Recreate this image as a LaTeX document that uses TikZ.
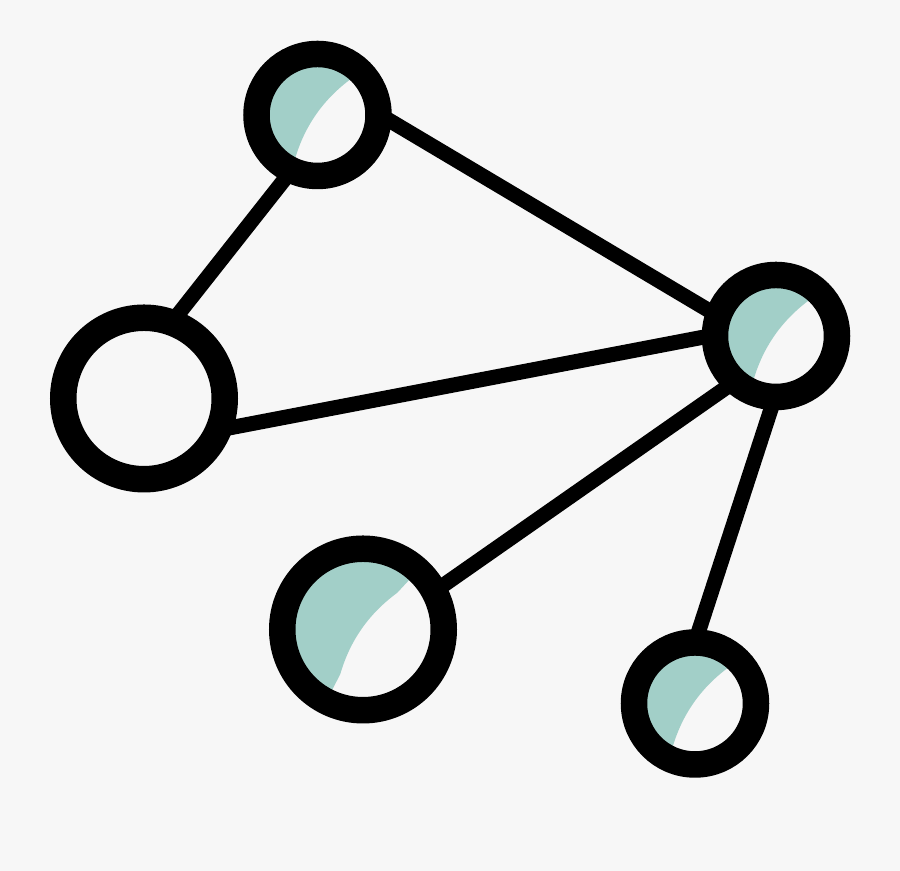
\documentclass[tikz,border=0pt]{standalone}
\usepackage{tikz}
\definecolor{paper}{RGB}{247,247,247}
\definecolor{mint}{RGB}{162,207,200}

\begin{document}
\begin{tikzpicture}[
    tealpart/.style={path picture={\fill[color = mint, shift={(path picture bounding box.center)}, scale=#1]
        (47:1) .. controls (0.12,0.32) and (-0.26,-0.22) .. (243:1) -- (243:2) -- (-2,-2) -- (-2,2) -- (47:2) -- cycle;}},
    smallhub/.style={circle, draw, color = black!100, line width=0.53cm, minimum size=2.44cm, inner sep=0pt, outer sep=0pt},
    bighub/.style={circle, draw, color = black!100, line width=0.53cm, minimum size=3.23cm, inner sep=0pt, outer sep=0pt},
    link/.style={color = black!100, line width=0.3cm}]
                    \fill[color = paper] (0, 0) rectangle (18, 17.42);
                    \useasboundingbox (0, 0) rectangle (18, 17.42);

                    \node[smallhub, tealpart=0.95] (ntop) at (6.35, 15.12) {};
                    \node[bighub] (nleft) at (2.88, 9.45) {};
                    \node[smallhub, tealpart=0.95] (nright) at (15.52, 10.70) {};
                    \node[bighub, tealpart=1.35] (nmid) at (7.26, 4.83) {};
                    \node[smallhub, tealpart=0.95] (nlow) at (13.90, 3.35) {};

                    \draw[link] (ntop.245) -- (nleft.70);
                    \draw[link] (ntop.1) -- (nright.161);
                    \draw[link] (nleft.337) -- (nright.179);
                    \draw[link] (nmid.28) -- (nright.228);
                    \draw[link] (nright.269) -- (nlow.90);
                \end{tikzpicture}
\end{document}
